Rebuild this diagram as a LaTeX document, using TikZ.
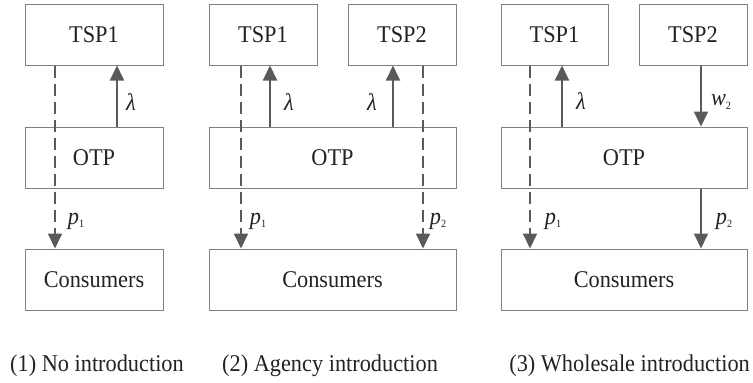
\documentclass[tikz,border=0pt]{standalone}
\usepackage{fontspec}
\setmainfont{Liberation Serif}[FakeStretch=0.93]
\usetikzlibrary{arrows.meta}
\definecolor{boxline}{HTML}{808080}
\definecolor{flow}{HTML}{5A5A5A}
\definecolor{ink}{HTML}{222222}
% italic symbol with a small upright index
\newcommand{\symidx}[2]{\textit{#1}\raisebox{-0.3ex}{\fontsize{11}{12}\selectfont #2}}

\begin{document}
\begin{tikzpicture}[x=1pt,y=-1pt,
  every node/.style={text=ink, font=\fontsize{24}{28}\selectfont},
  box/.style={draw=boxline, line width=1pt, minimum height=61pt, inner sep=0pt},
  flowline/.style={draw=flow, line width=1.9pt, -{Triangle[width=14pt,length=15pt]}},
  dashedflow/.style={flowline, dash pattern=on 12pt off 6pt},
  lbl/.style={inner sep=0pt},
  caption/.style={inner sep=0pt},
]
\useasboundingbox (0,0) rectangle (753,383);

% (1) no introduction
\node[box, minimum width=138pt] (t1a) at (94,34.5) {TSP1};
\node[box, minimum width=138pt] (o1)  at (94,157.5) {OTP};
\node[box, minimum width=138pt] (c1)  at (94,279.5) {Consumers};
\draw[dashedflow] ([xshift=-39pt]t1a.south) -- ([xshift=-39pt]c1.north);
\draw[flowline] ([xshift=23pt]o1.north) -- ([xshift=23pt]t1a.south);
\node[lbl] (l1) at (131,102) {\textit{λ}};
\node[lbl] (p1a) at (76,221) {\symidx{p}{1}};

% (2) agency introduction
\node[box, minimum width=108pt] (t2a) at (263,34.5) {TSP1};
\node[box, minimum width=108pt] (t2b) at (402,34.5) {TSP2};
\node[box, minimum width=247pt] (o2)  at (332.5,157.5) {OTP};
\node[box, minimum width=247pt] (c2)  at (332.5,279.5) {Consumers};
\draw[dashedflow] ([xshift=-22pt]t2a.south) -- ([xshift=-22pt]t2a.south |- c2.north);
\draw[flowline] ([xshift=7pt]t2a.south |- o2.north) -- ([xshift=7pt]t2a.south);
\draw[flowline] ([xshift=-9pt]t2b.south |- o2.north) -- ([xshift=-9pt]t2b.south);
\draw[dashedflow] ([xshift=21pt]t2b.south) -- ([xshift=21pt]t2b.south |- c2.north);
\node[lbl] (l2a) at (289,102) {\textit{λ}};
\node[lbl] (l2b) at (372,102) {\textit{λ}};
\node[lbl] (p2a) at (258,221) {\symidx{p}{1}};
\node[lbl] (p2b) at (438,221) {\symidx{p}{2}};

% (3) wholesale introduction
\node[box, minimum width=107pt] (t3a) at (554.5,34.5) {TSP1};
\node[box, minimum width=108pt] (t3b) at (693,34.5) {TSP2};
\node[box, minimum width=246pt] (o3)  at (624,157.5) {OTP};
\node[box, minimum width=246pt] (c3)  at (624,279.5) {Consumers};
\draw[dashedflow] ([xshift=-24.5pt]t3a.south) -- ([xshift=-24.5pt]t3a.south |- c3.north);
\draw[flowline] ([xshift=7.5pt]t3a.south |- o3.north) -- ([xshift=7.5pt]t3a.south);
\draw[flowline] ([xshift=8pt]t3b.south) -- ([xshift=8pt]t3b.south |- o3.north);
\draw[flowline] ([xshift=8pt]t3b.south |- o3.south) -- ([xshift=8pt]t3b.south |- c3.north);
\node[lbl] (l3) at (581,101) {\textit{λ}};
\node[lbl] (w3) at (721,102) {\symidx{w}{2}};
\node[lbl] (p3a) at (553,221) {\symidx{p}{1}};
\node[lbl] (p3b) at (724,221) {\symidx{p}{2}};

% captions
\node[caption, anchor=base west] (cap1) at (10,371) {(1) No introduction};
\node[caption, anchor=base west] (cap2) at (222,371) {(2) Agency introduction};
\node[caption, anchor=base east] (cap3) at (750,371) {(3) Wholesale introduction};
\end{tikzpicture}
\end{document}
